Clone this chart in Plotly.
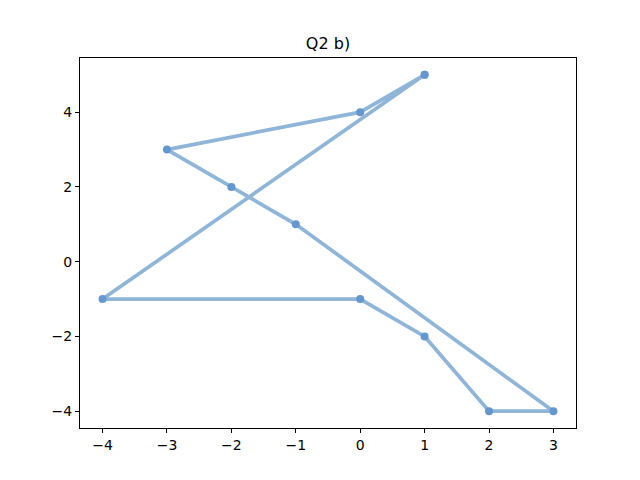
import plotly.graph_objects as go

x_vals = [1, 0, -3, -2, -1, 3, 2, 1, 0, -4, 1]
y_vals = [5, 4, 3, 2, 1, -4, -4, -2, -1, -1, 5]
x_ticks = [-4, -3, -2, -1, 0, 1, 2, 3]
y_ticks = [-4, -2, 0, 2, 4]
title = "Q2 b)"

line_col = "rgb(143,181,216)"
marker_col = "rgb(100,151,207)"
fig = go.Figure(go.Scatter(
    x=x_vals, y=y_vals, mode="lines+markers",
    line=dict(color=line_col, width=3.7),
    marker=dict(color=marker_col, size=8, line=dict(width=0)),
))

axis_common = dict(
    showgrid=False, zeroline=False, showline=True, linecolor="black", linewidth=1,
    mirror=True, ticks="outside", ticklen=4, tickcolor="black", tickwidth=1,
    tickfont=dict(family="DejaVu Sans", size=14, color="black"),
)
fig.update_xaxes(range=[-4.35, 3.35], tickvals=x_ticks,
                 ticktext=["\u2212" + str(-v) if v < 0 else str(v) for v in x_ticks], **axis_common)
fig.update_yaxes(range=[-4.45, 5.45], tickvals=y_ticks,
                 ticktext=["\u2212" + str(-v) if v < 0 else str(v) for v in y_ticks], **axis_common)

# page body has an ~8px offset; compensate in margins
fig.update_layout(
    width=640, height=480,
    margin=dict(l=72, r=72, t=50, b=60),
    paper_bgcolor="white", plot_bgcolor="white",
    showlegend=False,
    title=dict(text=title, x=(72 + 248) / 640, xanchor="center", y=1 - 35/480, yanchor="middle",
               font=dict(family="DejaVu Sans", size=16, color="black")),
)

fig.write_html("out.html")
